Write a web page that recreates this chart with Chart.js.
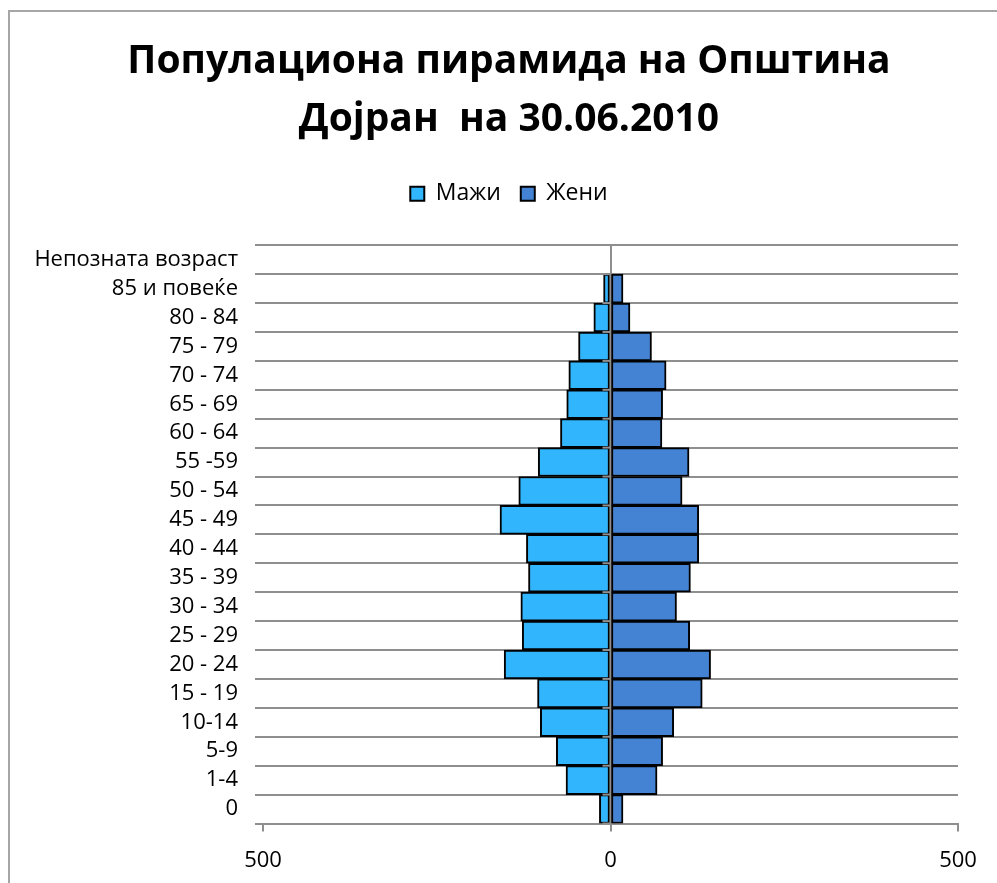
<!DOCTYPE html>
<html lang="mk">
<head>
    <meta charset="UTF-8">
    <title>Популациона пирамида на Општина Дојран</title>
    <style>
        body {
            margin: 0;
            background-color: #fff;
            overflow: hidden;
        }
        .frame {
            position: absolute;
            left: 8px;
            top: 10px;
            width: 1000px;
            height: 900px;
            border: 2px solid #a6a6a6;
        }
        .chart-box {
            position: absolute;
            left: 0;
            top: 0;
            width: 997px;
            height: 883px;
        }
    </style>
    <script src="https://cdn.jsdelivr.net/npm/chart.js"></script>
</head>
<body>

    <div class="frame"></div>
    <div class="chart-box">
        <canvas id="pyramid"></canvas>
    </div>

    <script>
        // age groups, top to bottom as in the picture
        const ageGroups = [
            'Непозната возраст', '85 и повеќе', '80 - 84', '75 - 79', '70 - 74',
            '65 - 69', '60 - 64', '55 -59', '50 - 54', '45 - 49',
            '40 - 44', '35 - 39', '30 - 34', '25 - 29', '20 - 24',
            '15 - 19', '10-14', '5-9', '1-4', '0'
        ];
        const males = [0, 10, 24, 46, 60, 63, 72, 104, 132, 159, 121, 118, 129, 127, 153, 105, 101, 78, 64, 16];
        const females = [0, 18, 28, 59, 80, 75, 74, 113, 103, 127, 127, 115, 95, 114, 144, 132, 91, 75, 67, 18];
        const xTicks = [-500, 0, 500];

        const fontName = "'Open Sans', sans-serif";
        const gridGray = '#8f8f8f';

        // little tick marks on the left side of the zero line
        const zeroTicks = {
            id: 'zeroTicks',
            afterDatasetsDraw(chart) {
                const x = chart.scales.x;
                const y = chart.scales.y;
                const x0 = x.getPixelForValue(0);
                const half = (y.getPixelForTick(1) - y.getPixelForTick(0)) / 2;
                const c = chart.ctx;
                c.save();
                c.strokeStyle = gridGray;
                c.lineWidth = 2;
                for (let i = 0; i < ageGroups.length; i++) {
                    const py = y.getPixelForTick(i) + half;
                    c.beginPath();
                    c.moveTo(x0 - 8, py);
                    c.lineTo(x0, py);
                    c.stroke();
                }
                c.restore();
            }
        };

        // more room under the legend, and title/legend moved a bit to the right
        const headerShift = {
            id: 'headerShift',
            beforeInit(chart) {
                const fit = chart.legend.fit;
                chart.legend.fit = function () {
                    fit.bind(chart.legend)();
                    this.height += 30;
                };
            },
            afterLayout(chart) {
                [chart.titleBlock, chart.legend].forEach(b => {
                    b.left += 20;
                    b.right += 20;
                });
            }
        };

        const ctx = document.getElementById('pyramid').getContext('2d');
        const pyramid = new Chart(ctx, {
            type: 'bar',
            data: {
                labels: ageGroups,
                datasets: [{
                    label: 'Мажи',
                    data: males.map(v => -v),
                    backgroundColor: '#31b6fd',
                    borderColor: '#000',
                    borderWidth: 2,
                    borderSkipped: false,
                    barPercentage: 1,
                    categoryPercentage: 1
                }, {
                    label: 'Жени',
                    data: females,
                    backgroundColor: '#4483d3',
                    borderColor: '#000',
                    borderWidth: 2,
                    borderSkipped: false,
                    barPercentage: 1,
                    categoryPercentage: 1
                }]
            },
            options: {
                indexAxis: 'y',
                responsive: true,
                maintainAspectRatio: false,
                animation: false,
                layout: {
                    autoPadding: false,
                    padding: { left: 20, right: 39, top: 0, bottom: 10 }
                },
                plugins: {
                    title: {
                        display: true,
                        text: ['Популациона пирамида на Општина', 'Дојран  на 30.06.2010'],
                        color: '#000',
                        font: { family: fontName, size: 39, weight: 'bold', lineHeight: 1.49 },
                        padding: { top: 33, bottom: 13 }
                    },
                    legend: {
                        position: 'top',
                        labels: {
                            color: '#000',
                            boxWidth: 14,
                            boxHeight: 14,
                            padding: 20,
                            font: { family: fontName, size: 23 }
                        }
                    },
                    tooltip: { enabled: false }
                },
                scales: {
                    x: {
                        stacked: true,
                        min: -500,
                        max: 500,
                        z: 1,
                        afterBuildTicks: scale => {
                            scale.ticks = xTicks.map(v => ({ value: v }));
                        },
                        afterFit: scale => { scale.height = 49.5; },
                        ticks: {
                            color: '#000',
                            padding: 16,
                            font: { family: fontName, size: 22 },
                            callback: v => Math.abs(v)
                        },
                        grid: {
                            color: c => (c.tick && c.tick.value === 0 ? gridGray : 'rgba(0,0,0,0)'),
                            tickColor: gridGray,
                            lineWidth: 2,
                            tickLength: 8
                        },
                        border: { color: gridGray, width: 2 }
                    },
                    y: {
                        stacked: true,
                        afterFit: scale => { scale.width = 243; },
                        ticks: {
                            color: '#000',
                            padding: 17,
                            autoSkip: false,
                            font: { family: fontName, size: 22 }
                        },
                        grid: {
                            offset: true,
                            color: gridGray,
                            lineWidth: 2,
                            tickLength: 8
                        },
                        border: { display: false }
                    }
                }
            },
            plugins: [zeroTicks, headerShift]
        });
    </script>

</body>
</html>
